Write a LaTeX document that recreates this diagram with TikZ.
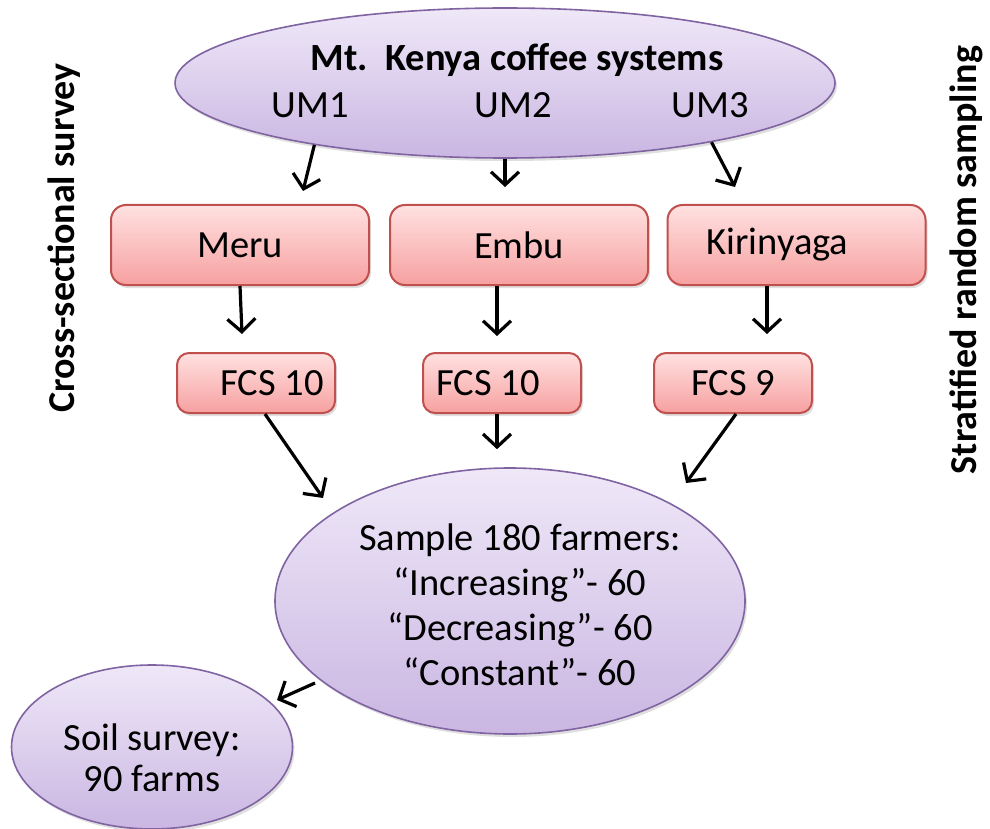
\documentclass[tikz,border=0pt]{standalone}
\usepackage{fontspec}
\setmainfont{Carlito}
\usetikzlibrary{shapes.geometric,arrows.meta,calc,shadows}
\definecolor{purpTop}{HTML}{EFE8F8}
\definecolor{purpBot}{HTML}{CAB6E2}
\definecolor{purpLine}{HTML}{8064A2}
\definecolor{redTop}{HTML}{FFE1E1}
\definecolor{redBot}{HTML}{F7A0A0}
\definecolor{redLine}{HTML}{C0504D}
\tikzset{
  oval/.style={ellipse, draw=purpLine, line width=1.6pt, top color=purpTop, bottom color=purpBot, inner sep=0pt,
     drop shadow={shadow xshift=2pt, shadow yshift=-3pt, opacity=0.25}},
  bigbox/.style={rectangle, rounded corners=15pt, draw=redLine, line width=2pt, top color=redTop, bottom color=redBot,
     minimum width=258pt, minimum height=80pt, inner sep=0pt, font=\fontsize{38.5}{42}\selectfont,
     drop shadow={shadow xshift=2pt, shadow yshift=-3pt, opacity=0.25}},
  smallbox/.style={rectangle, rounded corners=12pt, draw=redLine, line width=2pt, top color=redTop, bottom color=redBot,
     minimum width=158pt, minimum height=60pt, inner sep=0pt, font=\fontsize{38.5}{42}\selectfont,
     drop shadow={shadow xshift=2pt, shadow yshift=-3pt, opacity=0.25}},
  txt/.style={inner sep=0pt, font=\fontsize{38.5}{45}\selectfont, align=center},
  side/.style={inner sep=0pt, font=\fontsize{38}{42}\selectfont\bfseries, rotate=90},
  arr/.style={line width=3.2pt, -{Straight Barb[length=13pt,width=28pt,line width=3.2pt]}}
}
\begin{document}
\begin{tikzpicture}[x=1pt,y=-1pt]
\useasboundingbox (0,0) rectangle (990,829);
% top ellipse
\node[oval, minimum width=660pt, minimum height=150pt] (top) at (505,83) {};
\node[txt, font=\fontsize{38.5}{45}\selectfont\bfseries] (title) at (517,60) {Mt.\ \ Kenya coffee systems};
\node[txt] (um1) at (310,105) {UM1};
\node[txt] (um2) at (513,105) {UM2};
\node[txt] (um3) at (710,105) {UM3};
% row 1
\node[bigbox] (meru) at (240,245) {Meru};
\node[bigbox] (embu) at (519,245) {Embu};
\node[bigbox] (kiri) at (796.5,245) {Kirinyaga\hspace*{38pt}};
% row 2
\node[smallbox] (fcs1) at (256,383) {\hspace*{32pt}FCS 10};
\node[smallbox] (fcs2) at (502,383) {FCS 10\hspace*{28pt}};
\node[smallbox] (fcs3) at (733,383) {FCS 9};
% sample ellipse
\node[oval, minimum width=470pt, minimum height=266pt] (sample) at (510,601) {};
\node[txt] (sampletxt) at (520,605) {Sample 180 farmers:\\“Increasing”- 60\\“Decreasing”- 60\\“Constant”- 60};
% soil ellipse
\node[oval, minimum width=281pt, minimum height=164pt] (soil) at (152,747) {};
\node[txt, font=\fontsize{38.5}{41}\selectfont] (soiltxt) at (152,758) {Soil survey:\\90 farms};
% side labels
\node[side] (left) at (64,238) {Cross-sectional survey};
\node[side] (right) at (966,260) {Stratified random sampling};
% arrows
\draw[arr] (top.198) -- ($(meru.north)+(63,-13)$);
\draw[arr] (top.south) -- ($(embu.north)+(-14,-17)$);
\draw[arr] (top.-16.5) -- ($(kiri.north)+(-61.5,-17)$);
\draw[arr] (meru.south) -- ($(fcs1.north)+(-14,-18)$);
\draw[arr] ($(embu.south)+(-22,0)$) -- ($(fcs2.north)+(-5,-16)$);
\draw[arr] ($(kiri.south)+(-29.5,0)$) -- ($(fcs3.north)+(34,-18)$);
\draw[arr] ($(fcs1.south)+(9,0)$) -- ($(sample.center)+(-187,-103)$);
\draw[arr] ($(fcs2.south)+(-5,0)$) -- ($(sample.north)+(-13,-18)$);
\draw[arr] ($(fcs3.south)+(3,0)$) -- ($(sample.center)+(176,-118)$);
\draw[arr] ($(sample.center)+(-195,82)$) -- ($(soil.center)+(125,-47)$);
\end{tikzpicture}
\end{document}
